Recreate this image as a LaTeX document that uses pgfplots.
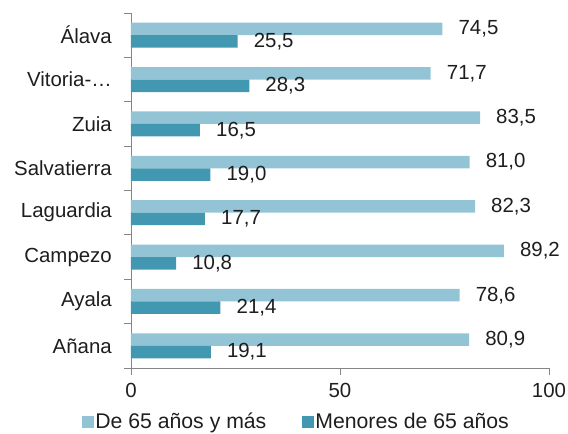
\documentclass[border=0pt]{standalone}
\usepackage{pgfplots}
\pgfplotsset{compat=1.18}
\usepackage{fontspec}
\setmainfont{Liberation Sans}
\definecolor{lightb}{RGB}{147,196,213}
\definecolor{darkb}{RGB}{66,152,176}
\definecolor{axgray}{RGB}{134,134,134}
\definecolor{txt}{RGB}{30,30,30}
\begin{document}
\begin{tikzpicture}
\begin{axis}[
  name=ax,
  scale only axis,
  width=418bp, height=355bp,
  xmin=0, xmax=100,
  ymin=-0.5, ymax=7.5,
  axis x line*=bottom,
  axis y line*=left,
  axis line style={axgray, line width=0.8bp},
  tick style={axgray, line width=0.8bp},
  tick align=outside,
  major tick length=6.5bp,
  xtick={0,50,100},
  xticklabel style={inner sep=0pt, anchor=north, yshift=-9bp},
  ytick={-0.5,0.5,...,7.5},
  yticklabels={},
  extra y ticks={0,1,2,3,4,5,6,7},
  extra y tick labels={Añana,Ayala,Campezo,Laguardia,Salvatierra,Zuia,Vitoria-…,Álava},
  extra y tick style={major tick length=0pt, yticklabel style={inner sep=0pt, anchor=east, xshift=-19bp}},
  /pgf/number format/assume math mode=true,
  ticklabel style={font=\fontsize{20.5}{24}\selectfont, text=txt},
  xbar, bar width=12.5bp,
  nodes near coords={\pgfmathprintnumber[fixed,fixed zerofill,precision=1,use comma,assume math mode=true]{\pgfplotspointmeta}},
  every node near coord/.append style={anchor=west, inner sep=0pt, xshift=16bp, font=\fontsize{20.5}{24}\selectfont, text=txt},
  legend columns=2,
  legend style={draw=none, fill=none, at={(0.395,-0.151)}, anchor=center,
    font=\fontsize{21.3}{24}\selectfont, text=txt,
    /tikz/every even column/.append style={column sep=35bp},
    nodes={inner sep=1bp}},
  legend image code/.code={\fill[#1] (0bp,-6bp) rectangle (12bp,6bp);},
]
\addplot[fill=lightb, draw=none, bar shift=6.25bp] coordinates {
  (80.9,0) (78.6,1) (89.2,2) (82.3,3) (81.0,4) (83.5,5) (71.7,6) (74.5,7)};
\addlegendentry{De 65 años y más}
\addplot[fill=darkb, draw=none, bar shift=-6.25bp] coordinates {
  (19.1,0) (21.4,1) (10.8,2) (17.7,3) (19.0,4) (16.5,5) (28.3,6) (25.5,7)};
\addlegendentry{Menores de 65 años}
\end{axis}
\pgfresetboundingbox
\path[use as bounding box] ([xshift=-131bp,yshift=-66bp]ax.south west) rectangle ([xshift=437bp,yshift=368bp]ax.south west);
\end{tikzpicture}
\end{document}
